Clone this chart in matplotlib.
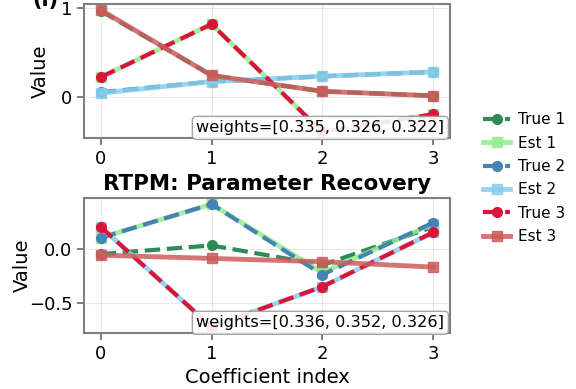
import matplotlib.pyplot as plt
import numpy as np

idx = [0, 1, 2, 3]
labels = ["True 1", "Est 1", "True 2", "Est 2", "True 3", "Est 3"]
colors = ["#2e8b57", "#90ee90", "#4682b4", "#87ceeb", "#dc143c", "#cd5c5c"]

# ALS panel
als_true = [
    [0.97, 0.24, 0.06, 0.01],
    [0.05, 0.17, 0.23, 0.28],
    [0.22, 0.82, -0.40, -0.20],
]
als_est = [
    [0.22, 0.82, -0.40, -0.20],
    [0.04, 0.17, 0.23, 0.28],
    [0.98, 0.24, 0.06, 0.01],
]
als_weights = "weights=[0.335, 0.326, 0.322]"

# RTPM panel
rtpm_true = [
    [-0.05, 0.03, -0.15, 0.20],
    [0.10, 0.41, -0.24, 0.24],
    [0.20, -0.72, -0.35, 0.15],
]
rtpm_est = [
    [0.10, 0.41, -0.22, 0.23],
    [0.20, -0.72, -0.35, 0.15],
    [-0.06, -0.09, -0.12, -0.17],
]
rtpm_weights = "weights=[0.336, 0.352, 0.326]"

fig = plt.figure(figsize=(5.76, 3.89), dpi=100)
ax1 = fig.add_axes([0.146, 0.645, 0.635, 0.345])
ax2 = fig.add_axes([0.146, 0.144, 0.635, 0.347])


def draw(ax, true, est, weights, title):
    for k in range(3):
        ax.plot(idx, true[k], "--o", color=colors[2 * k], lw=3, ms=7,
                label=labels[2 * k])
        ax.plot(idx, est[k], "-s", color=colors[2 * k + 1], lw=3.5, ms=7,
                alpha=0.85, label=labels[2 * k + 1])
    ax.set_title(title, fontsize=15.4, fontweight="bold", pad=6)
    ax.set_ylabel("Value", fontsize=14)
    ax.set_xticks(idx)
    ax.tick_params(labelsize=13, color="0.4", length=5, width=1.2)
    ax.grid(True, color="0.85", lw=0.8, alpha=0.6)
    for s in ax.spines.values():
        s.set_color("0.5")
        s.set_linewidth(1.5)
    ax.text(0.985, 0.02, weights, transform=ax.transAxes, ha="right",
            va="bottom", fontsize=11.6,
            bbox=dict(boxstyle="round,pad=0.25", fc="white", ec="0.6",
                      alpha=0.9))


draw(ax1, als_true, als_est, als_weights, "ALS: Parameter Recovery")
draw(ax2, rtpm_true, rtpm_est, rtpm_weights, "RTPM: Parameter Recovery")
ax1.set_yticks([0, 1])
ax2.set_yticks([-0.5, 0.0])
ax2.set_xlabel("Coefficient index", fontsize=14)
ax1.yaxis.set_label_coords(-0.093, 0.5)
ax2.yaxis.set_label_coords(-0.142, 0.5)

fig.text(0.056, 1.0, "(i)", fontsize=15, fontweight="bold", va="center")

handles, labs = ax2.get_legend_handles_labels()
fig.legend(handles, labs, loc="center left", bbox_to_anchor=(0.815, 0.542),
           frameon=False, fontsize=11, handlelength=1.75, handletextpad=0.5,
           labelspacing=0.55)

fig.savefig("out.png", dpi=100)
